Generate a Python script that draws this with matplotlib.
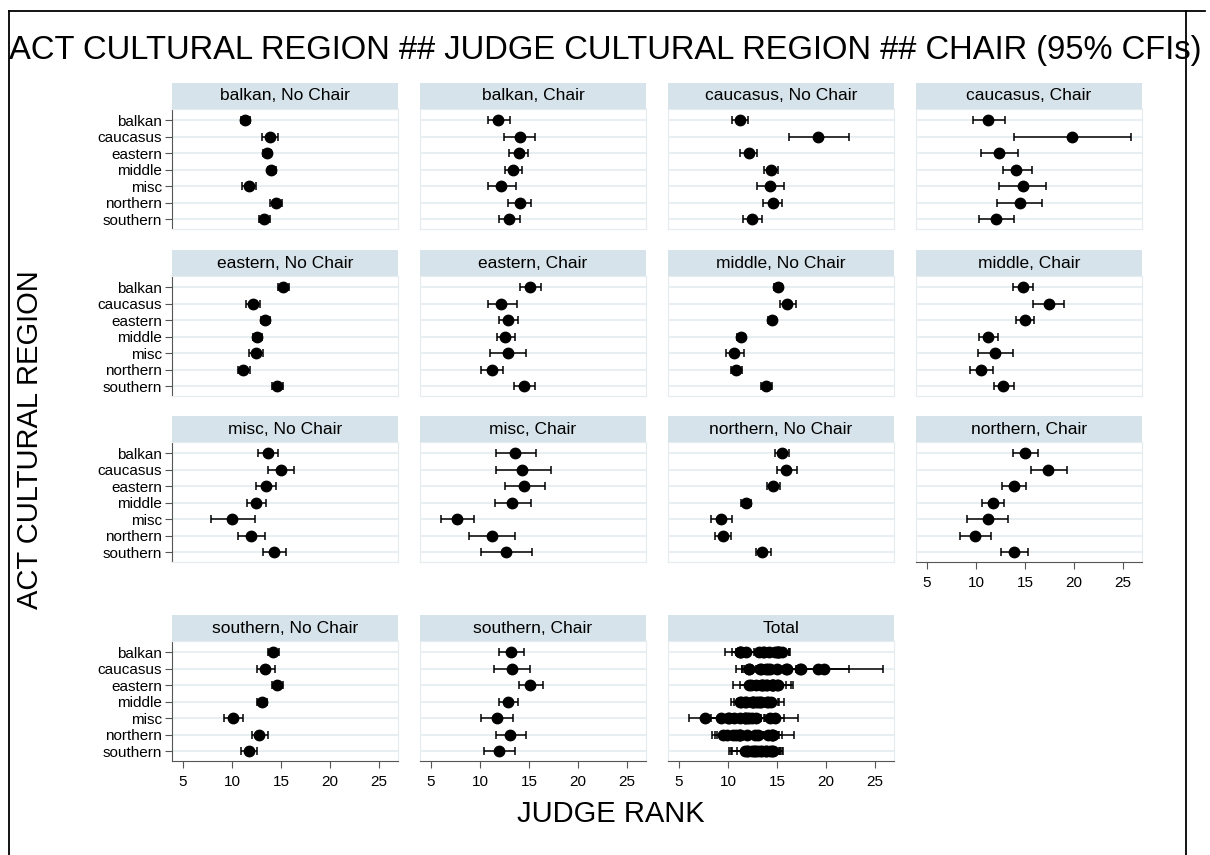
# -*- coding: utf-8 -*-

import numpy as np
import matplotlib.pyplot as plt
from matplotlib.patches import Rectangle
from matplotlib.lines import Line2D

plt.rcParams['font.family'] = ['Liberation Sans', 'DejaVu Sans']

# act cultural region (rows of every panel)
regions = ['balkan', 'caucasus', 'eastern', 'middle', 'misc', 'northern', 'southern']
xticks = [5, 10, 15, 20, 25]

# judge cultural region ## chair : mean judge rank and 95% CI
balkan_nochair_mean = [11.35, 13.84, 13.54, 14.02, 11.70, 14.49, 13.24]
balkan_nochair_lo = [10.90, 13.07, 13.20, 13.63, 11.01, 13.89, 12.73]
balkan_nochair_hi = [11.80, 14.70, 13.97, 14.49, 12.47, 15.09, 13.84]

balkan_chair_mean = [11.84, 14.09, 13.96, 13.41, 12.18, 14.09, 12.98]
balkan_chair_lo = [10.86, 12.47, 12.98, 12.60, 10.86, 12.82, 11.96]
balkan_chair_hi = [13.11, 15.58, 14.94, 14.30, 13.71, 15.24, 14.09]

caucasus_nochair_mean = [11.22, 19.23, 12.11, 14.41, 14.30, 14.59, 12.44]
caucasus_nochair_lo = [10.44, 16.23, 11.22, 13.70, 13.00, 13.56, 11.55]
caucasus_nochair_hi = [12.04, 22.31, 13.00, 15.08, 15.67, 15.52, 13.44]

caucasus_chair_mean = [11.27, 19.84, 12.34, 14.08, 14.75, 14.52, 12.05]
caucasus_chair_lo = [9.65, 13.86, 10.53, 12.71, 12.31, 12.16, 10.35]
caucasus_chair_hi = [13.01, 25.83, 14.30, 15.71, 17.18, 16.74, 13.93]

eastern_nochair_mean = [15.22, 12.12, 13.41, 12.60, 12.43, 11.14, 14.57]
eastern_nochair_lo = [14.70, 11.39, 12.98, 12.12, 11.75, 10.62, 14.06]
eastern_nochair_hi = [15.77, 12.90, 13.89, 13.11, 13.15, 11.87, 15.22]

eastern_chair_mean = [15.15, 12.18, 12.90, 12.60, 12.82, 11.20, 14.47]
eastern_chair_lo = [14.09, 10.86, 11.92, 11.75, 10.98, 10.13, 13.45]
eastern_chair_hi = [16.18, 13.79, 13.92, 13.54, 14.73, 12.39, 15.58]

middle_nochair_mean = [15.11, 16.04, 14.48, 11.29, 10.66, 10.85, 13.89]
middle_nochair_lo = [14.65, 15.30, 14.07, 10.89, 9.81, 10.35, 13.33]
middle_nochair_hi = [15.55, 16.97, 14.93, 11.70, 11.59, 11.40, 14.48]

middle_chair_mean = [14.75, 17.41, 14.97, 11.20, 11.94, 10.50, 12.75]
middle_chair_lo = [13.82, 15.85, 14.04, 10.31, 10.16, 9.39, 11.79]
middle_chair_hi = [15.85, 19.03, 15.96, 12.20, 13.75, 11.71, 13.86]

misc_nochair_mean = [13.63, 15.05, 13.50, 12.43, 9.98, 11.95, 14.27]
misc_nochair_lo = [12.64, 13.71, 12.47, 11.52, 7.83, 10.58, 13.15]
misc_nochair_hi = [14.70, 16.33, 14.53, 13.50, 12.30, 13.33, 15.47]

misc_chair_mean = [13.62, 14.30, 14.52, 13.28, 7.63, 11.20, 12.69]
misc_chair_lo = [11.66, 11.62, 12.56, 11.50, 6.01, 8.86, 10.13]
misc_chair_hi = [15.67, 17.24, 16.60, 15.20, 9.37, 13.62, 15.32]

northern_nochair_mean = [15.48, 15.93, 14.63, 11.81, 9.29, 9.52, 13.52]
northern_nochair_lo = [14.82, 15.00, 14.00, 11.29, 8.29, 8.66, 12.82]
northern_nochair_hi = [16.19, 17.00, 15.30, 12.33, 10.44, 10.29, 14.34]

northern_chair_mean = [14.98, 17.38, 13.89, 11.75, 11.19, 9.95, 13.89]
northern_chair_lo = [13.82, 15.62, 12.69, 10.63, 9.13, 8.38, 12.51]
northern_chair_hi = [16.33, 19.26, 15.13, 12.88, 13.26, 11.57, 15.32]

southern_nochair_mean = [14.19, 13.41, 14.62, 13.03, 10.06, 12.77, 11.69]
southern_nochair_lo = [13.67, 12.51, 14.06, 12.56, 9.16, 12.04, 10.92]
southern_nochair_hi = [14.79, 14.36, 15.22, 13.58, 11.09, 13.63, 12.56]

southern_chair_mean = [13.20, 13.23, 15.11, 12.86, 11.75, 13.11, 11.92]
southern_chair_lo = [11.96, 11.41, 13.96, 11.96, 10.13, 11.62, 10.43]
southern_chair_hi = [14.47, 15.11, 16.39, 13.88, 13.33, 14.73, 13.62]

panels = [
    ('balkan, No Chair', balkan_nochair_mean, balkan_nochair_lo, balkan_nochair_hi),
    ('balkan, Chair', balkan_chair_mean, balkan_chair_lo, balkan_chair_hi),
    ('caucasus, No Chair', caucasus_nochair_mean, caucasus_nochair_lo, caucasus_nochair_hi),
    ('caucasus, Chair', caucasus_chair_mean, caucasus_chair_lo, caucasus_chair_hi),
    ('eastern, No Chair', eastern_nochair_mean, eastern_nochair_lo, eastern_nochair_hi),
    ('eastern, Chair', eastern_chair_mean, eastern_chair_lo, eastern_chair_hi),
    ('middle, No Chair', middle_nochair_mean, middle_nochair_lo, middle_nochair_hi),
    ('middle, Chair', middle_chair_mean, middle_chair_lo, middle_chair_hi),
    ('misc, No Chair', misc_nochair_mean, misc_nochair_lo, misc_nochair_hi),
    ('misc, Chair', misc_chair_mean, misc_chair_lo, misc_chair_hi),
    ('northern, No Chair', northern_nochair_mean, northern_nochair_lo, northern_nochair_hi),
    ('northern, Chair', northern_chair_mean, northern_chair_lo, northern_chair_hi),
    ('southern, No Chair', southern_nochair_mean, southern_nochair_lo, southern_nochair_hi),
    ('southern, Chair', southern_chair_mean, southern_chair_lo, southern_chair_hi),
]

W, H = 1210, 855
STRIP = '#d6e3ea'
GRID = '#e4ecf0'
AXC = '#555555'

col_left = [172, 420, 668, 916]
row_top = [109, 276, 442, 641]
pw, ph, hdr = 226, 120, 26


def draw_points(ax, mean, lo, hi):
    mean = np.array(mean)
    y = np.arange(len(regions))
    xerr = [mean - np.array(lo), np.array(hi) - mean]
    ax.errorbar(mean, y, xerr=xerr, fmt='none', ecolor='black',
                elinewidth=1.1, capsize=3, capthick=1.1, zorder=3)
    ax.plot(mean, y, 'o', color='black', ms=7.5, zorder=4)


def make_panel(r, c, title, show_x):
    ax = fig.add_axes([col_left[c] / W, 1 - (row_top[r] + ph) / H, pw / W, ph / H])
    ax.set_xlim(3.88, 26.94)
    ax.set_ylim(6.6, -0.67)
    ax.set_yticks(range(len(regions)))
    ax.yaxis.grid(True, color=GRID, lw=1.2, zorder=0)
    for s in ax.spines.values():
        s.set_color(GRID)
    # strip header
    ax.add_patch(Rectangle((0, 1), 1, hdr / ph, transform=ax.transAxes,
                           facecolor=STRIP, edgecolor='none', clip_on=False))
    ax.text(0.5, 1 + hdr / ph / 2, title, transform=ax.transAxes,
            ha='center', va='center', fontsize=12.5)
    if c == 0:
        ax.set_yticklabels(regions, fontsize=11)
        ax.spines['left'].set_color(AXC)
        ax.tick_params(axis='y', length=5, color=AXC, pad=2)
    else:
        ax.set_yticklabels([])
        ax.tick_params(axis='y', length=0)
    if show_x:
        ax.set_xticks(xticks)
        ax.set_xticklabels([str(t) for t in xticks], fontsize=11)
        ax.spines['bottom'].set_color(AXC)
        ax.tick_params(axis='x', length=5, color=AXC, pad=5)
    else:
        ax.set_xticks([])
    return ax


fig = plt.figure(figsize=(W / 100, H / 100), dpi=100)

for i, (title, mean, lo, hi) in enumerate(panels):
    r, c = divmod(i, 4)
    show_x = (r == 3) or (r == 2 and c == 3)
    ax = make_panel(r, c, title, show_x)
    draw_points(ax, mean, lo, hi)

# Total panel: all groups overlaid
ax = make_panel(3, 2, 'Total', True)
for title, mean, lo, hi in panels:
    draw_points(ax, mean, lo, hi)

# outer frame
fig.add_artist(Line2D([9 / W, 9 / W], [1 - 11 / H, 0], color='black', lw=1.3))
fig.add_artist(Line2D([9 / W, 1205 / W], [1 - 11 / H, 1 - 11 / H], color='black', lw=1.3))
fig.add_artist(Line2D([1186 / W, 1186 / W], [1 - 11 / H, 0], color='black', lw=1.3))

fig.text(9 / W, 1 - 51 / H,
         'ACT CULTURAL REGION ## JUDGE CULTURAL REGION ## CHAIR (95% CFIs)',
         ha='left', va='center', fontsize=23.6)
fig.text(30 / W, 1 - 440 / H, 'ACT CULTURAL REGION', rotation=90,
         ha='center', va='center', fontsize=21)
fig.text(611 / W, 1 - 814 / H, 'JUDGE RANK', ha='center', va='center', fontsize=21)

fig.savefig('out.png', dpi=100)
